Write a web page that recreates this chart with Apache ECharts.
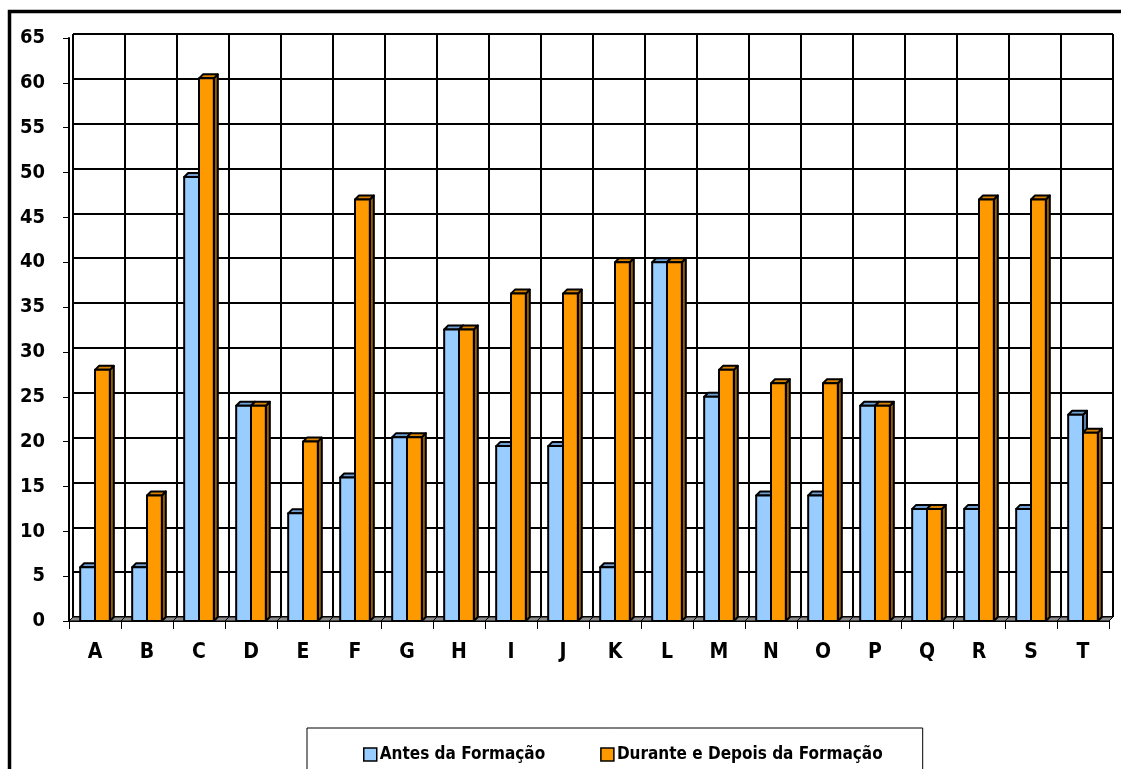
<!DOCTYPE html>
<html>
<head>
<meta charset="utf-8">
<script src="https://cdn.jsdelivr.net/npm/echarts@6/dist/echarts.min.js"></script>
<style>
  html, body { margin: 0; padding: 0; background: #fff; }
  #chart { width: 1121px; height: 769px; }
</style>
</head>
<body>
<div id="chart"></div>
<script>
const categories = ['A', 'B', 'C', 'D', 'E', 'F', 'G', 'H', 'I', 'J', 'K', 'L', 'M', 'N', 'O', 'P', 'Q', 'R', 'S', 'T'];
const antes = [6, 6, 49.5, 24, 12, 16, 20.5, 32.5, 19.5, 19.5, 6, 40, 25, 14, 14, 24, 12.5, 12.5, 12.5, 23];
const durante = [28, 14, 60.5, 24, 20, 47, 20.5, 32.5, 36.5, 36.5, 40, 40, 28, 26.5, 26.5, 24, 12.5, 47, 47, 21];
const yTicks = { min: 0, max: 65, interval: 5 };

const DX = 4, DY = -4; // profundidade 3D
const font = '"DejaVu Sans Condensed", "Liberation Sans", sans-serif';

// desenha uma barra 3D (frente, topo, lado)
function bar3d(front, top, side, offset) {
  return function (params, api) {
    const idx = api.value(0);
    const t = api.coord([idx, api.value(1)]);
    const b = api.coord([idx, 0]);
    const band = api.size([1, 0])[0];
    const w = band * 0.285;
    const x0 = offset < 0 ? t[0] - w : t[0];
    const x1 = x0 + w;
    const yt = t[1], yb = b[1];
    const ln = { stroke: '#000', lineWidth: 2, lineJoin: 'round' };
    return {
      type: 'group',
      children: [
        { type: 'polygon', shape: { points: [[x1, yt], [x1 + DX, yt + DY], [x1 + DX, yb + DY], [x1, yb]] },
          style: Object.assign({ fill: side }, ln) },
        { type: 'polygon', shape: { points: [[x0, yt], [x1, yt], [x1 + DX, yt + DY], [x0 + DX, yt + DY]] },
          style: Object.assign({ fill: top }, ln) },
        { type: 'rect', shape: { x: x0, y: yt, width: w, height: yb - yt },
          style: Object.assign({ fill: front }, ln) }
      ]
    };
  };
}

function floor(params, api) {
  const idx = api.value(0);
  const c = api.coord([idx, 0]);
  const band = api.size([1, 0])[0];
  const x0 = c[0] - band / 2, x1 = c[0] + band / 2, y = c[1];
  return {
    type: 'polygon',
    shape: { points: [[x0, y], [x1, y], [x1 + DX, y + DY], [x0 + DX, y + DY]] },
    style: { fill: '#8c8c8c', stroke: '#000', lineWidth: 1 }
  };
}

const chart = echarts.init(document.getElementById('chart'));
chart.setOption({
  animation: false,
  backgroundColor: '#fff',
  graphic: [{
    type: 'polyline', z: 100, silent: true,
    shape: { points: [[9.5, 800], [9.5, 11.5], [1130, 11.5]] },
    style: { fill: 'none', stroke: '#000', lineWidth: 3.5 }
  }],
  legend: {
    data: ['Antes da Formação', 'Durante e Depois da Formação'],
    left: 307,
    top: 728,
    padding: [18, 40, 40, 56],
    borderColor: '#000',
    borderWidth: 1,
    itemWidth: 13,
    itemHeight: 13,
    itemGap: 55,
    icon: 'rect',
    itemStyle: { borderColor: '#000', borderWidth: 1.5 },
    textStyle: { fontFamily: font, fontWeight: 'bold', fontSize: 17, color: '#000', padding: [0, 0, 0, -2] }
  },
  grid: [
    { left: 69, right: 12, top: 38, bottom: 148 },
    { left: 73, right: 8, top: 34, bottom: 152 }
  ],
  xAxis: [
    {
      type: 'category', gridIndex: 0, data: categories,
      axisLine: { show: true, lineStyle: { color: '#000', width: 1 } },
      axisTick: { show: true, length: 8, lineStyle: { color: '#000', width: 1 } },
      axisLabel: { margin: 21, fontFamily: font, fontWeight: 'bold', fontSize: 21, color: '#000' },
      splitLine: { show: false }
    },
    {
      type: 'category', gridIndex: 1, data: categories,
      axisLine: { show: false }, axisTick: { show: false }, axisLabel: { show: false },
      splitLine: { show: true, lineStyle: { color: '#000', width: 2 } }
    }
  ],
  yAxis: [
    {
      type: 'value', gridIndex: 0, min: yTicks.min, max: yTicks.max, interval: yTicks.interval,
      axisLine: { show: true, lineStyle: { color: '#000', width: 2 } },
      axisTick: { show: true, length: 6, lineStyle: { color: '#000', width: 1 } },
      axisLabel: { margin: 24, fontFamily: font, fontWeight: 'bold', fontSize: 20, color: '#000' },
      splitLine: { show: false }
    },
    {
      type: 'value', gridIndex: 1, min: yTicks.min, max: yTicks.max, interval: yTicks.interval,
      axisLine: { show: false }, axisTick: { show: false }, axisLabel: { show: false },
      splitLine: { show: true, lineStyle: { color: '#000', width: 2 } }
    }
  ],
  series: [
    {
      name: 'piso', type: 'custom', xAxisIndex: 0, yAxisIndex: 0, clip: false, z: 2,
      renderItem: floor,
      data: categories.map((c, i) => [i, 0])
    },
    {
      name: 'Antes da Formação', type: 'custom', xAxisIndex: 0, yAxisIndex: 0, clip: false, z: 3,
      itemStyle: { color: '#99CCFF' },
      renderItem: bar3d('#99CCFF', '#729fd2', '#5b7fa8', -1),
      data: antes.map((v, i) => [i, v])
    },
    {
      name: 'Durante e Depois da Formação', type: 'custom', xAxisIndex: 0, yAxisIndex: 0, clip: false, z: 4,
      itemStyle: { color: '#FF9900' },
      renderItem: bar3d('#FF9900', '#d98200', '#995c00', 1),
      data: durante.map((v, i) => [i, v])
    }
  ]
});
</script>
</body>
</html>
